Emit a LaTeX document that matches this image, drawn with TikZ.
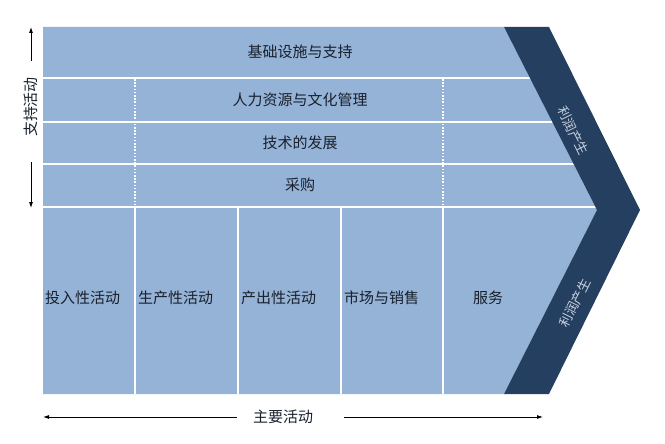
\documentclass[tikz,border=0pt]{standalone}
\usepackage{fontspec}
\newfontfamily\cjk{Noto Sans CJK SC}
\usetikzlibrary{arrows.meta,positioning,calc}
\definecolor{chainlight}{HTML}{95B3D7}
\definecolor{chaindark}{HTML}{243F60}
\definecolor{labelink}{HTML}{18202C}
\definecolor{bandink}{HTML}{C9D2DE}

\begin{document}
\begin{tikzpicture}[x=1pt,y=-1pt,
  lbl/.style={font=\cjk\fontsize{15}{17}\selectfont, text=labelink, inner sep=3pt},
  bandlbl/.style={font=\cjk\fontsize{13}{15}\selectfont, text=bandink, inner sep=1pt},
  sep/.style={white, line width=2pt},
  dotsep/.style={white, line width=1.6pt, dash pattern=on 1.6pt off 1.6pt},
  axis/.style={-{Latex[length=6pt,width=4pt]}, line width=0.8pt}]
% Margins
\useasboundingbox (0,0) rectangle (665,444);

% Chevron body
\fill[chainlight] (43,27) -- (504,27) -- (597,210) -- (504,394) -- (43,394) -- cycle;

% Row and column separators
\foreach \y in {78,122,164,207}
  \draw[sep] (43,\y) -- (600,\y);
\foreach \x in {135,443}
  \draw[dotsep] (\x,79) -- (\x,206);
\foreach \x in {135,238,341,443}
  \draw[sep] (\x,207) -- (\x,394);

% Margin band
\fill[chaindark] (504,27) -- (549,27) -- (640,210) -- (549,394) -- (504,394) -- (597,210) -- cycle;
\node[bandlbl, rotate=-63.6] (profitup) at (573,131) {利润产生};
\node[bandlbl, rotate=63.6] (profitdown) at (575,303) {利润产生};

% Support activities
\node[lbl] (infra) at (300,52) {基础设施与支持};
\node[lbl] (hr) at (300,100) {人力资源与文化管理};
\node[lbl] (tech) at (300,143) {技术的发展};
\node[lbl] (procure) at (300,185) {采购};

% Primary activities
\node[lbl, anchor=west] (inbound) at (42,298) {投入性活动};
\node[lbl, anchor=west] (operations) at (135,298) {生产性活动};
\node[lbl, anchor=west] (outbound) at (238,298) {产出性活动};
\node[lbl, anchor=west] (marketing) at (341,298) {市场与销售};
\node[lbl, anchor=west] (service) at (470,298) {服务};

% Side arrows
\node[lbl, rotate=90] (support) at (31,107) {支持活动};
\coordinate (supporttop) at (31,27);
\coordinate (supportbot) at (31,208);
\draw[axis, shorten <=13pt] (support.east) -- (supporttop);
\draw[axis, shorten <=22pt] (support.west) -- (supportbot);

% Bottom arrows
\node[lbl] (primary) at (283,417) {主要活动};
\coordinate (primaryleft) at (43,417);
\coordinate (primaryright) at (543,417);
\draw[axis, shorten <=13pt] (primary.west) -- (primaryleft);
\draw[axis, shorten <=28pt] (primary.east) -- (primaryright);
\end{tikzpicture}
\end{document}
